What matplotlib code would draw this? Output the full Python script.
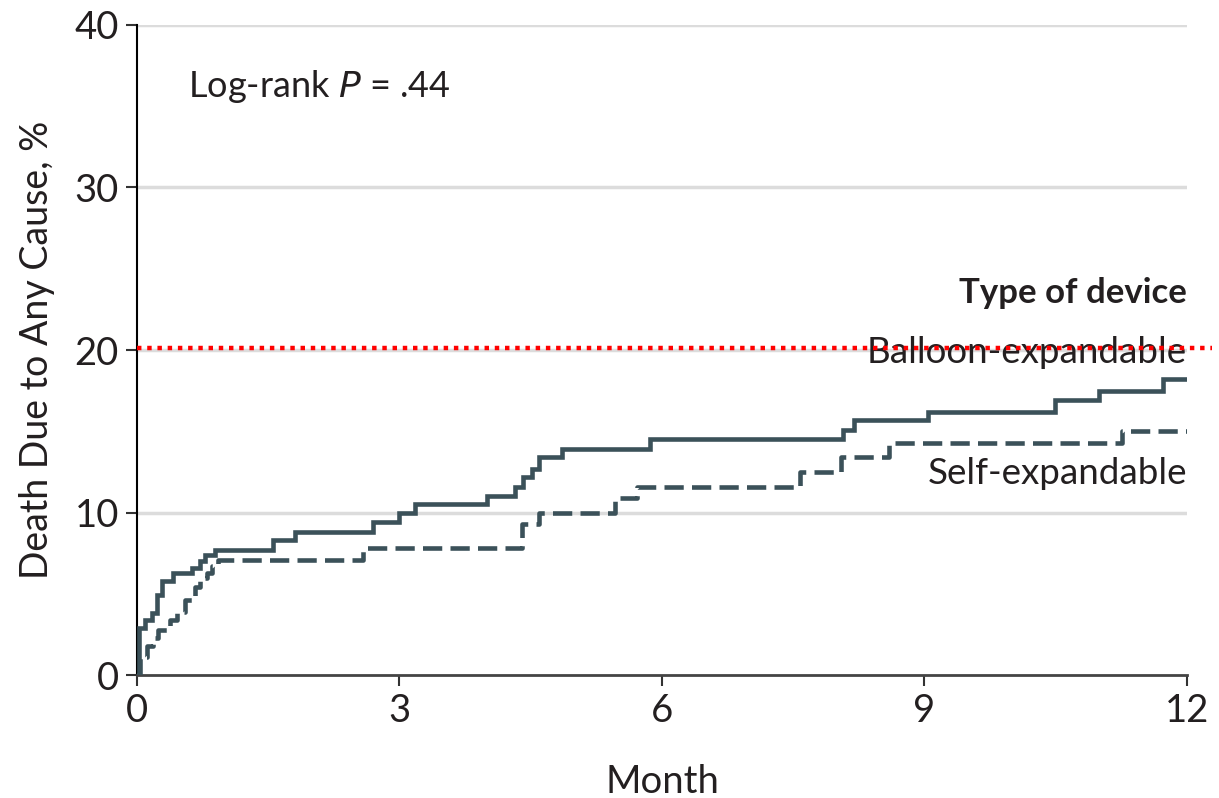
#!/usr/bin/python
# -*- coding: UTF-8 -*-
"""
Kaplan-Meier 累积死亡率曲线（两种瓣膜类型）
"""
import matplotlib
matplotlib.use('Agg')
import matplotlib.pyplot as plt

plt.rcParams['font.family'] = ['Lato', 'DejaVu Sans']

# 球囊扩张型：时间点(月) 与 累积死亡率(%)
balloon_month = [0, 0.02, 0.09, 0.17, 0.23, 0.29, 0.41, 0.63, 0.72, 0.78, 0.89,
                 1.55, 1.8, 2.70, 3.0, 3.18, 4.0, 4.32, 4.41, 4.52, 4.6, 4.86,
                 5.86, 8.07, 8.2, 9.04, 10.49, 11.0, 11.73, 12.0]
balloon_pct = [0, 2.9, 3.4, 3.8, 4.9, 5.8, 6.3, 6.6, 7.0, 7.4, 7.7,
               8.3, 8.8, 9.4, 9.95, 10.5, 11.0, 11.6, 12.2, 12.7, 13.4, 13.9,
               14.5, 15.1, 15.7, 16.2, 16.9, 17.5, 18.2, 18.2]

# 自扩张型
self_month = [0, 0.03, 0.11, 0.18, 0.24, 0.38, 0.46, 0.55, 0.66, 0.72, 0.80,
              0.86, 0.93, 2.58, 4.4, 4.6, 5.46, 5.72, 7.58, 8.05, 8.6,
              11.26, 12.0]
self_pct = [0, 1.1, 1.8, 2.3, 2.8, 3.4, 3.9, 4.6, 5.4, 6.0, 6.3,
            6.7, 7.1, 7.8, 9.3, 10.0, 10.9, 11.6, 12.5, 13.4, 14.3,
            15.0, 15.0]

x_ticks = [0, 3, 6, 9, 12]
y_ticks = [0, 10, 20, 30, 40]
ref_line = 20.1

line_color = '#3b5159'
text_color = '#231f20'

fig = plt.figure(figsize=(12.19, 7.98), dpi=100)
ax = fig.add_axes([0.1124, 0.1541, 0.9737 - 0.1124, 0.9687 - 0.1541])

# 网格线
for y in y_ticks[1:]:
    ax.axhline(y, color='#dcdcdc', lw=2.5, zorder=0)

ax.step(balloon_month, balloon_pct, where='post', color=line_color, lw=3.3,
        solid_joinstyle='miter', zorder=3)
ax.step(self_month, self_pct, where='post', color=line_color, lw=3.3,
        linestyle=(0, (4.2, 1.8)), zorder=3)

# 红色参考虚线
ax.plot([0, 1.024], [ref_line, ref_line], transform=ax.get_yaxis_transform(),
        color='#ff0000', lw=3.2, linestyle=(0, (1, 1.3)), clip_on=False, zorder=4)

ax.set_xlim(0, 12)
ax.set_ylim(0, 40)
ax.set_xticks(x_ticks)
ax.set_yticks(y_ticks)
ax.tick_params(axis='both', direction='out', length=8, width=1.5,
               labelsize=27.5, colors='#333333', labelcolor=text_color, pad=5)
for side in ['top', 'right']:
    ax.spines[side].set_visible(False)
ax.spines['left'].set_linewidth(1.5)
ax.spines['bottom'].set_linewidth(2)
ax.spines['bottom'].set_color('#444444')

ax.set_xlabel('Month', fontsize=27.5, color=text_color, labelpad=25)
ax.set_ylabel('Death Due to Any Cause, %', fontsize=27, color=text_color, labelpad=14)

ax.text(0.58, 36.2, 'Log-rank $\\mathit{P}$ = .44', fontsize=26, color=text_color,
        va='center', ha='left')
ax.text(12, 23.5, 'Type of device', fontsize=25, fontweight='bold',
        color=text_color, ha='right', va='center')
ax.text(12, 19.85, 'Balloon-expandable', fontsize=26.5, color=text_color,
        ha='right', va='center')
ax.text(12, 12.4, 'Self-expandable', fontsize=26.5, color=text_color,
        ha='right', va='center')

fig.savefig('out.png', dpi=100, facecolor='white')
